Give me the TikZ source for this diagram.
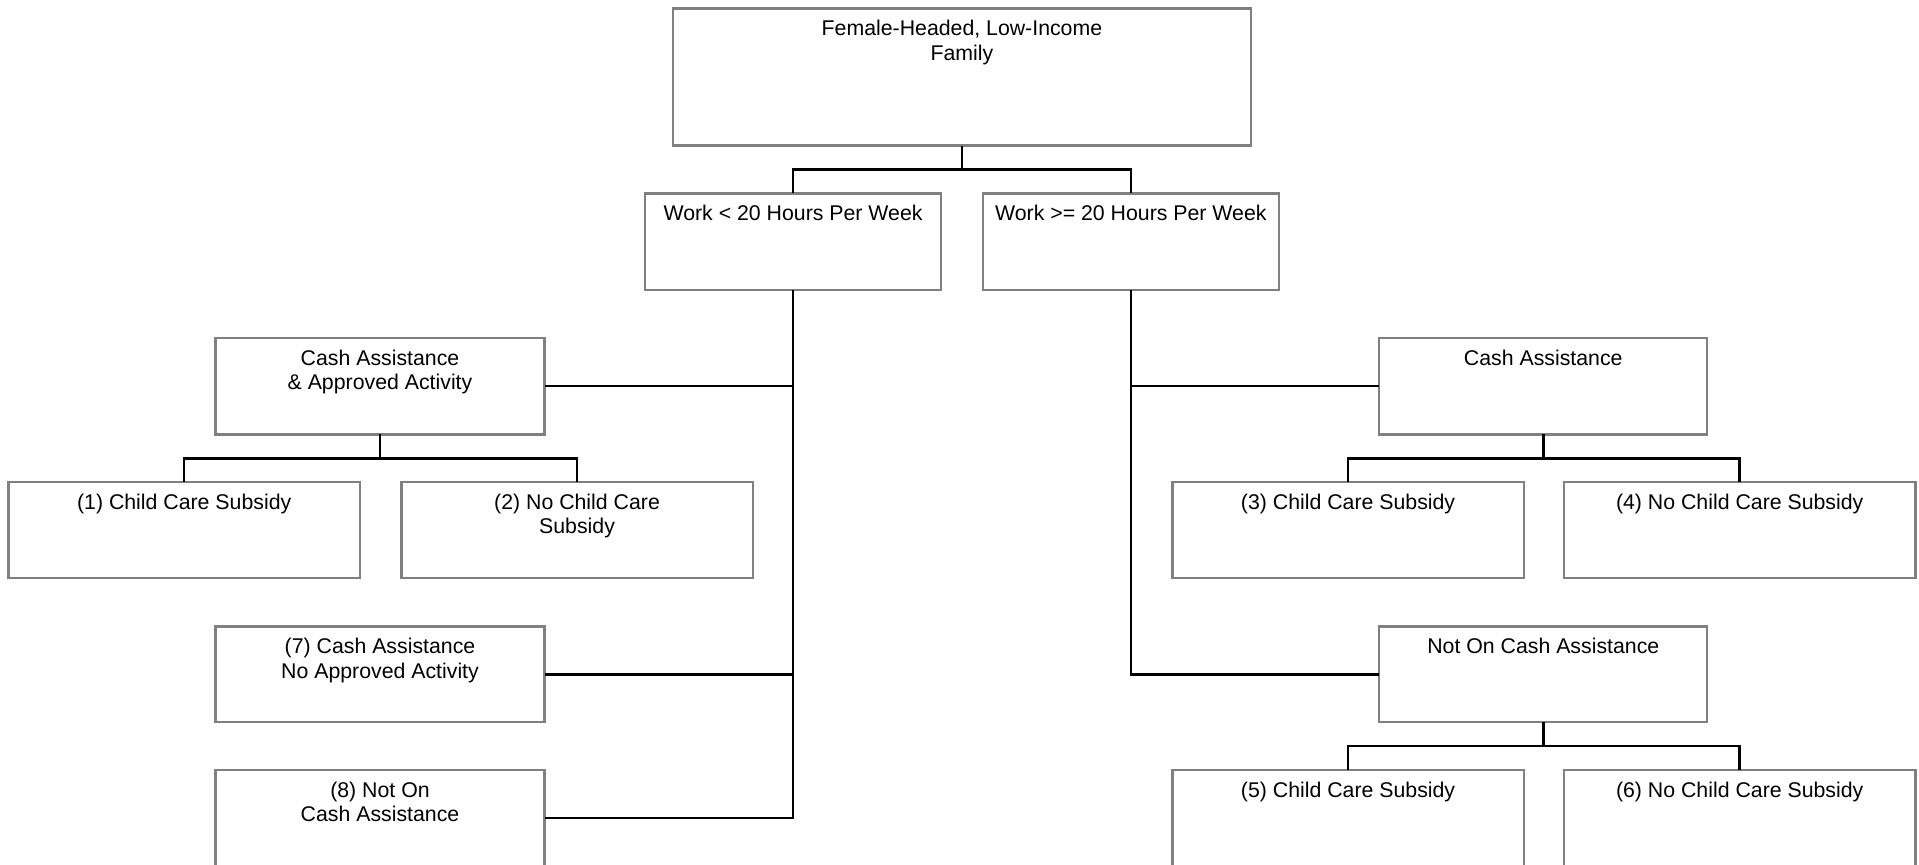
\documentclass[tikz,border=0pt]{standalone}
\usepackage{fontspec}
\setmainfont{Liberation Sans}
\begin{document}
\begin{tikzpicture}[x=1pt,y=-1pt,
  box/.style={draw=boxgray, line width=1.9pt, rectangle, inner sep=0pt, outer sep=0pt},
  toptext/.style={anchor=north, inner sep=0pt, yshift=-9.5pt, align=center, font=\fontsize{17.4}{20}\selectfont},
  conn/.style={draw=black, line width=2.1pt}
]
\definecolor{boxgray}{RGB}{128,128,128}
\clip (0,0) rectangle (1568,706);
\useasboundingbox (0,0) rectangle (1568,706);
% nodes
\node[box, minimum width=472pt, minimum height=112pt, label={[toptext]north:Female-Headed, Low-Income\\Family}] (top) at (786,63) {};
\node[box, minimum width=242pt, minimum height=79pt, label={[toptext]north:Work < 20 Hours Per Week}] (w1) at (648,197.5) {};
\node[box, minimum width=242pt, minimum height=79pt, label={[toptext]north:Work >= 20 Hours Per Week}] (w2) at (924,197.5) {};
\node[box, minimum width=269pt, minimum height=79pt, label={[toptext]north:Cash Assistance\\\& Approved Activity}] (ca1) at (310.5,315.5) {};
\node[box, minimum width=287pt, minimum height=78pt, label={[toptext]north:(1) Child Care Subsidy}] (c1) at (150.5,433) {};
\node[box, minimum width=287pt, minimum height=78pt, label={[toptext]north:(2) No Child Care\\Subsidy}] (c2) at (471.5,433) {};
\node[box, minimum width=269pt, minimum height=78pt, label={[toptext]north:(7) Cash Assistance\\No Approved Activity}] (c7) at (310.5,551) {};
\node[box, minimum width=269pt, minimum height=79pt, label={[toptext]north:(8) Not On\\Cash Assistance}] (c8) at (310.5,668.5) {};
\node[box, minimum width=268pt, minimum height=79pt, label={[toptext]north:Cash Assistance}] (ca2) at (1261,315.5) {};
\node[box, minimum width=287pt, minimum height=78pt, label={[toptext]north:(3) Child Care Subsidy}] (c3) at (1101.5,433) {};
\node[box, minimum width=287pt, minimum height=78pt, label={[toptext]north:(4) No Child Care Subsidy}] (c4) at (1421.5,433) {};
\node[box, minimum width=268pt, minimum height=78pt, label={[toptext]north:Not On Cash Assistance}] (nca) at (1261,551) {};
\node[box, minimum width=287pt, minimum height=79pt, label={[toptext]north:(5) Child Care Subsidy}] (c5) at (1101.5,668.5) {};
\node[box, minimum width=287pt, minimum height=79pt, label={[toptext]north:(6) No Child Care Subsidy}] (c6) at (1421.5,668.5) {};
% connectors
\draw[conn] (top.south) -- ++(0,19.5) -| (w1.north);
\draw[conn] (top.south) -- ++(0,19.5) -| (w2.north);
\draw[conn] (w1.south) |- (ca1.east);
\draw[conn] (w1.south) |- (c7.east);
\draw[conn] (w1.south) |- (c8.east);
\draw[conn] (w2.south) |- (ca2.west);
\draw[conn] (w2.south) |- (nca.west);
\draw[conn] (ca1.south) -- ++(0,19.5) -| (c1.north);
\draw[conn] (ca1.south) -- ++(0,19.5) -| (c2.north);
\draw[conn] (ca2.south) -- ++(0,19.5) -| (c3.north);
\draw[conn] (ca2.south) -- ++(0,19.5) -| (c4.north);
\draw[conn] (nca.south) -- ++(0,19.5) -| (c5.north);
\draw[conn] (nca.south) -- ++(0,19.5) -| (c6.north);
\end{tikzpicture}
\end{document}
